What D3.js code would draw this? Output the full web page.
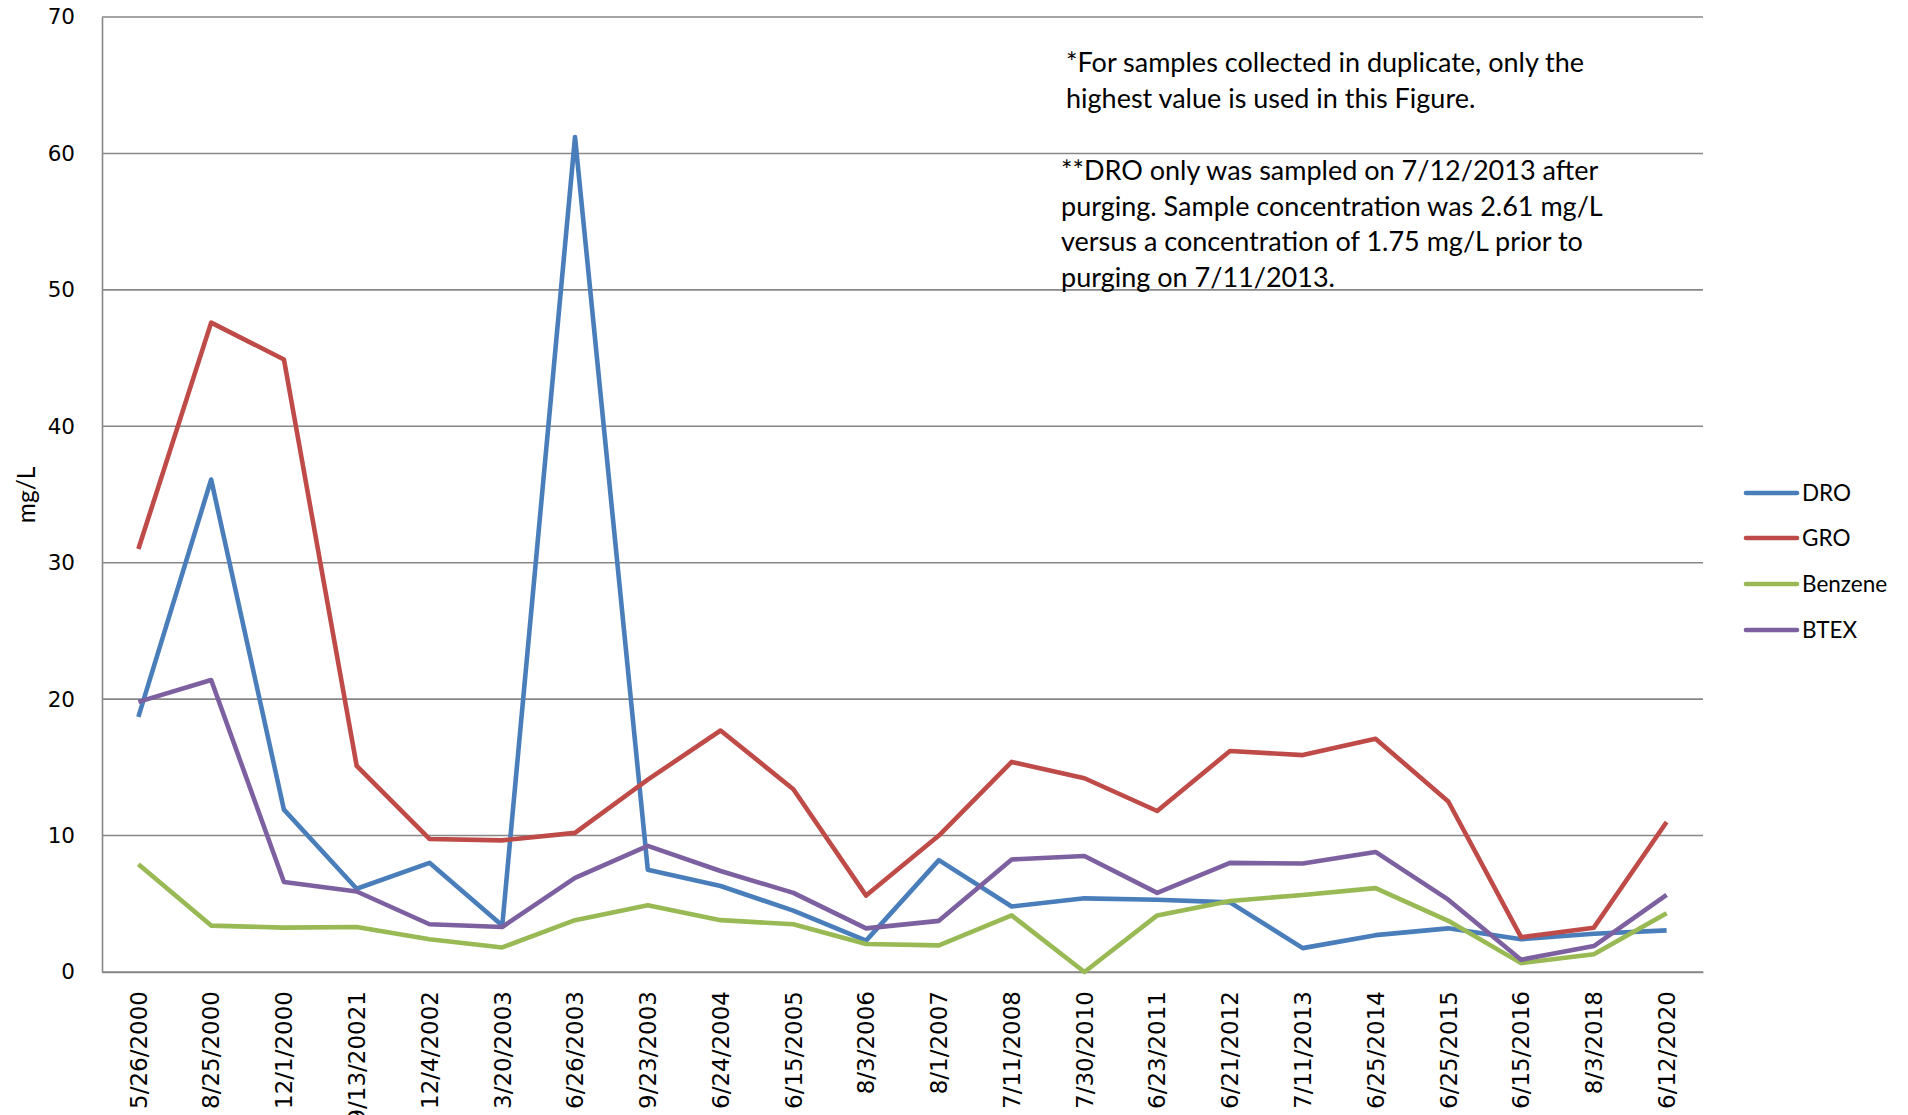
<!DOCTYPE html>
<html>
<head>
<meta charset="utf-8">
<script src="https://cdn.jsdelivr.net/npm/d3@7"></script>
<style>
  html, body { margin: 0; padding: 0; background: #fff; }
  svg { display: block; }
</style>
</head>
<body>
<script>
const categories = ["5/26/2000","8/25/2000","12/1/2000","9/13/20021","12/4/2002","3/20/2003","6/26/2003","9/23/2003","6/24/2004","6/15/2005","8/3/2006","8/1/2007","7/11/2008","7/30/2010","6/23/2011","6/21/2012","7/11/2013","6/25/2014","6/25/2015","6/15/2016","8/3/2018","6/12/2020"];
const dro     = [18.7, 36.1, 11.9, 6.1, 8.0, 3.4, 61.2, 7.5, 6.3, 4.5, 2.3, 8.2, 4.8, 5.4, 5.3, 5.1, 1.75, 2.7, 3.2, 2.4, 2.8, 3.05];
const gro     = [31.0, 47.6, 44.9, 15.1, 9.75, 9.65, 10.2, 14.1, 17.7, 13.4, 5.6, 10.0, 15.4, 14.2, 11.8, 16.2, 15.9, 17.1, 12.5, 2.55, 3.25, 11.0];
const benzene = [7.9, 3.4, 3.25, 3.3, 2.4, 1.8, 3.8, 4.9, 3.8, 3.5, 2.05, 1.95, 4.15, 0.0, 4.15, 5.2, 5.65, 6.15, 3.75, 0.65, 1.3, 4.3];
const btex    = [19.8, 21.4, 6.6, 5.9, 3.5, 3.3, 6.9, 9.25, 7.4, 5.8, 3.2, 3.75, 8.25, 8.5, 5.8, 8.0, 7.95, 8.8, 5.3, 0.9, 1.9, 5.65];
const seriesNames = ["DRO","GRO","Benzene","BTEX"];
const seriesColors = ["#4A7EBB","#BE4B48","#98B954","#7D60A0"];
const yTicks = [0,10,20,30,40,50,60,70];
const noteLines1 = ["*For samples collected in duplicate, only the","highest value is used in this Figure."];
const noteLines2 = ["**DRO only was sampled on 7/12/2013 after","purging. Sample concentration was 2.61 mg/L","versus a concentration of 1.75 mg/L prior to","purging on 7/11/2013."];

const W = 1908, H = 1115;
const plot = {left: 102, right: 1703, top: 17, bottom: 972};

const svg = d3.select("body").append("svg").attr("width", W).attr("height", H);

const x = d3.scaleBand().domain(categories).range([plot.left, plot.right]);
const y = d3.scaleLinear().domain([0, 70]).range([plot.bottom, plot.top]);

// gridlines
svg.append("g")
  .selectAll("line").data(yTicks).join("line")
  .attr("x1", plot.left).attr("x2", plot.right)
  .attr("y1", d => y(d)).attr("y2", d => y(d))
  .attr("stroke", "#878787").attr("stroke-width", 1.6);

// y axis
const yAxis = svg.append("g").attr("transform", `translate(${plot.left},0)`)
  .call(d3.axisLeft(y).tickValues(yTicks).tickSize(0).tickPadding(27).tickFormat(d3.format("d")));
yAxis.select(".domain").attr("stroke", "#878787").attr("stroke-width", 1.6);
yAxis.selectAll("text").attr("font-family", "DejaVu Sans").attr("font-size", 21.5).attr("fill", "#000");

// x axis
const xAxis = svg.append("g").attr("transform", `translate(0,${plot.bottom})`)
  .call(d3.axisBottom(x).tickSize(0).tickPadding(0));
xAxis.select(".domain").attr("stroke", "#878787").attr("stroke-width", 1.6);
xAxis.selectAll("text")
  .attr("font-family", "DejaVu Sans").attr("font-size", 23).attr("fill", "#000")
  .attr("transform", "rotate(-90)")
  .attr("text-anchor", "end")
  .attr("x", -19).attr("y", 0).attr("dy", "0.36em");

// y label
svg.append("text")
  .attr("transform", "translate(35,495) rotate(-90)")
  .attr("text-anchor", "middle")
  .attr("font-family", "Lato").attr("font-size", 24.5).attr("fill", "#000")
  .text("mg/L");

// lines
const data = [dro, gro, benzene, btex];
const line = d3.line().x((d, i) => x(categories[i]) + x.bandwidth() / 2).y(d => y(d));
svg.append("g").selectAll("path").data(data).join("path")
  .attr("d", d => line(d))
  .attr("fill", "none")
  .attr("stroke", (d, i) => seriesColors[i])
  .attr("stroke-width", 4.6)
  .attr("stroke-linejoin", "round");

// notes
const notes = svg.append("g").attr("font-family", "Lato").attr("font-size", 27).attr("fill", "#000");
noteLines1.forEach((t, i) => notes.append("text").attr("x", 1066).attr("y", 72 + i * 35.6).text(t));
noteLines2.forEach((t, i) => notes.append("text").attr("x", 1061).attr("y", 180 + i * 35.6).text(t));

// legend
const legend = svg.append("g");
const legendY = [493, 538, 584, 630];
seriesNames.forEach((name, i) => {
  legend.append("line")
    .attr("x1", 1746).attr("x2", 1797)
    .attr("y1", legendY[i]).attr("y2", legendY[i])
    .attr("stroke", seriesColors[i]).attr("stroke-width", 4.6).attr("stroke-linecap", "round");
  legend.append("text")
    .attr("x", 1802).attr("y", legendY[i]).attr("dy", "0.35em")
    .attr("font-family", "Lato").attr("font-size", 22.5).attr("fill", "#000")
    .text(name);
});
</script>
</body>
</html>
